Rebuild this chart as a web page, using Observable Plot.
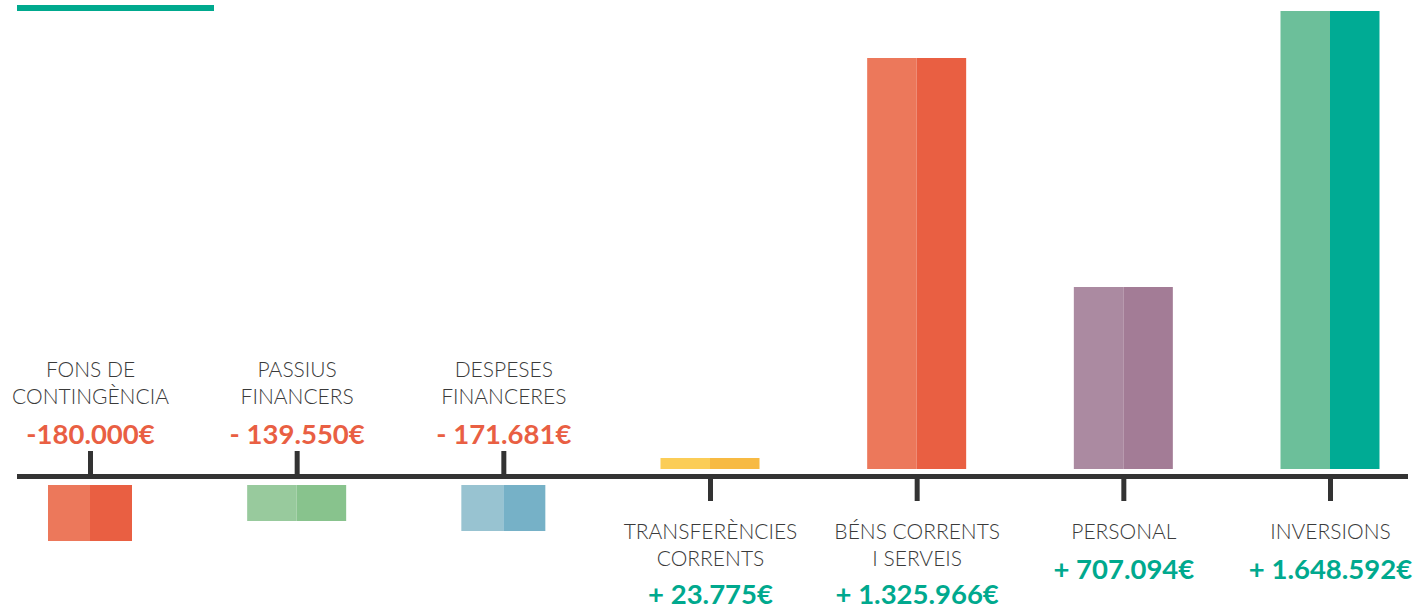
<!DOCTYPE html>
<html><head><meta charset="utf-8">
<script src="https://cdn.jsdelivr.net/npm/d3@7"></script>
<script src="https://cdn.jsdelivr.net/npm/@observablehq/plot@0.6"></script>
<style>
body{margin:0;background:#fff;}
#wrap{position:relative;width:1417px;height:608px;overflow:hidden;}
#topline{position:absolute;left:17px;top:5px;width:197px;height:6px;background:#00A98E;}
#chart{position:absolute;left:0;top:0;}
</style></head><body>
<div id="wrap"><div id="topline"></div><div id="chart"></div></div>
<script>
// ---- data ----
const categories = ["fons", "passius", "despeses", "transferencies", "bens", "personal", "inversions"];
const names = ["FONS DE\nCONTINGÈNCIA", "PASSIUS\nFINANCERS", "DESPESES\nFINANCERES", "TRANSFERÈNCIES\nCORRENTS", "BÉNS CORRENTS\nI SERVEIS", "PERSONAL", "INVERSIONS"];
const valueLabels = ["-180.000€", "- 139.550€", "- 171.681€", "+ 23.775€", "+ 1.325.966€", "+ 707.094€", "+ 1.648.592€"];
// bar heights as drawn in the picture (euros)
const barValues = [-201600, -129600, -165600, 39600, 1479400, 655100, 1648592];
const lightColors = ["#EC785B", "#98CA9D", "#98C3D1", "#FBCD57", "#EC785B", "#AB8AA1", "#6CBF9A"];
const darkColors = ["#E95F42", "#88C38D", "#76B1C7", "#F7BA43", "#E95F42", "#A37C96", "#00AB94"];
const narrowBars = ["fons", "despeses"];

const data = categories.map((c, i) => ({
  cat: c, name: names[i], label: valueLabels[i], bar: barValues[i],
  light: lightColors[i], dark: darkColors[i], lines: names[i].split("\n").length
}));

// ---- layout ----
const W = 1417, H = 608;
const xFirst = 90, xLast = 1330;
const step = (xLast - xFirst) / (categories.length - 1);
const yMax = 1648592;
const axisY = 476, topY = 18;
const unitsPerPx = yMax / (axisY - topY);
const tickLen = 25 * unitsPerPx;
const FONT = "Lato, 'Open Sans', sans-serif";
const RED = "#E95F43", TEAL = "#00A98E";
const NAME_SIZE = 21, VALUE_SIZE = 27.5;

const neg = data.filter(d => d.bar < 0);
const pos = data.filter(d => d.bar > 0);

function halves(subset, width, dy) {
  const out = (step - width) / 2;
  return [
    Plot.barY(subset, {x: "cat", y1: () => 0, y2: "bar", fill: "light", dy, insetLeft: out, insetRight: step / 2}),
    Plot.barY(subset, {x: "cat", y1: () => 0, y2: "bar", fill: "dark", dy, insetLeft: step / 2, insetRight: out})
  ];
}

const plot = Plot.plot({
  width: W, height: H,
  marginLeft: 17, marginRight: 9, marginTop: 0, marginBottom: 0,
  style: {fontFamily: FONT, background: "transparent", overflow: "visible"},
  x: {type: "band", domain: categories, range: [xFirst - step / 2, xLast + step / 2], padding: 0, round: false, axis: null},
  y: {domain: [0, yMax], range: [axisY, topY], axis: null},
  color: {type: "identity"},
  marks: [
    ...halves(pos, 99, -7),
    ...halves(neg.filter(d => !narrowBars.includes(d.cat)), 99, 9),
    ...halves(neg.filter(d => narrowBars.includes(d.cat)), 84, 9),
    // ticks
    Plot.ruleX(neg, {x: "cat", y1: () => 0, y2: () => tickLen, stroke: "#333", strokeWidth: 5}),
    Plot.ruleX(pos, {x: "cat", y1: () => 0, y2: () => -tickLen, stroke: "#333", strokeWidth: 5}),
    // axis line
    Plot.ruleY([0], {stroke: "#333", strokeWidth: 5}),
    // negative labels (above axis)
    Plot.text(neg, {x: "cat", y: () => 0, text: "name", dy: -73, lineAnchor: "bottom", lineHeight: 1.27,
      fontSize: NAME_SIZE, fontWeight: 300, fill: "#3a3a3a"}),
    Plot.text(neg, {x: "cat", y: () => 0, text: "label", dy: -33, lineAnchor: "bottom",
      fontSize: VALUE_SIZE, fontWeight: 700, fill: RED}),
    // positive labels (below axis)
    Plot.text(pos, {x: "cat", y: () => 0, text: "name", dy: 44, lineAnchor: "top", lineHeight: 1.27,
      fontSize: NAME_SIZE, fontWeight: 300, fill: "#3a3a3a"}),
    Plot.text(pos.filter(d => d.lines === 1), {x: "cat", y: () => 0, text: "label", dy: 102, lineAnchor: "bottom",
      fontSize: VALUE_SIZE, fontWeight: 700, fill: TEAL}),
    Plot.text(pos.filter(d => d.lines === 2), {x: "cat", y: () => 0, text: "label", dy: 127, lineAnchor: "bottom",
      fontSize: VALUE_SIZE, fontWeight: 700, fill: TEAL})
  ]
});
document.getElementById("chart").appendChild(plot);
</script>
</body></html>
